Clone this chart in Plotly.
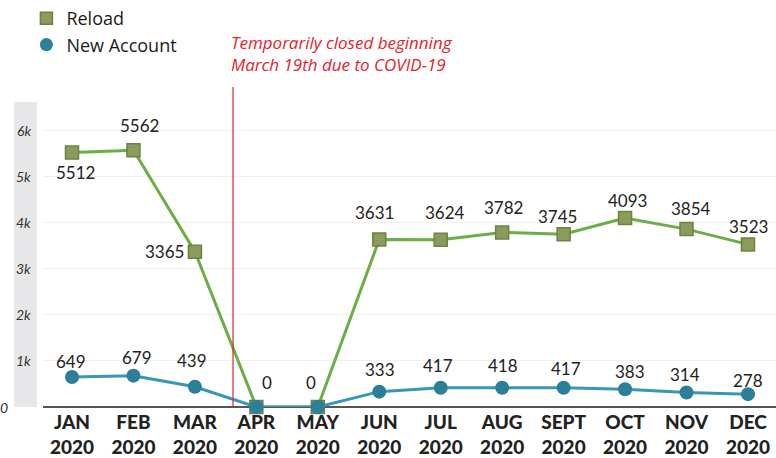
import plotly.graph_objects as go

months = ["JAN", "FEB", "MAR", "APR", "MAY", "JUN", "JUL", "AUG", "SEPT", "OCT", "NOV", "DEC"]
year = "2020"
reload_vals = [5512, 5562, 3365, 0, 0, 3631, 3624, 3782, 3745, 4093, 3854, 3523]
new_account_vals = [649, 679, 439, 0, 0, 333, 417, 418, 417, 383, 314, 278]
reload_show = [True, True, True, False, False, True, True, True, True, True, True, True]
ytick_vals = [0, 1000, 2000, 3000, 4000, 5000, 6000]
ytick_text = ["0", "1k", "2k", "3k", "4k", "5k", "6k"]
closure_pos = 2.62
note = "Temporarily closed beginning<br>March 19th due to COVID-19"

# label offsets in pixels (styling)
reload_dx = [3, 6, -30, 0, 0, -5, 4, 1, -6, 2, 4, 1]
reload_dy = [-20, 25, 0, 0, 0, 27, 27, 25, 18, 18, 21, 18]
new_dx = [-1, 4, -3, 11, -7, 1, -3, 1, 2, 5, -2, 0]
new_dy = [16, 18, 26, 25, 25, 22, 22, 22, 19, 18, 18, 14]

xs = list(range(len(months)))
FONT = "Lato"

R_LINE, R_FILL, R_EDGE = "#6aae45", "#8a9b5c", "#6e8240"
N_LINE, N_FILL = "#3996b8", "#2c7f98"
CLEAR = "rgba(0,0,0,0)"

fig = go.Figure()
fig.add_trace(go.Scatter(
    x=xs, y=reload_vals, name="Reload", mode="lines+markers", showlegend=False,
    line=dict(color=R_LINE, width=3),
    marker=dict(symbol="square", size=13, color=R_FILL, line=dict(color=R_EDGE, width=1.5)),
    cliponaxis=False,
))
fig.add_trace(go.Scatter(
    x=xs, y=new_account_vals, name="New Account", mode="lines+markers", showlegend=False,
    line=dict(color=N_LINE, width=3),
    marker=dict(symbol="circle", size=14, color=N_FILL),
    cliponaxis=False,
))
# legend-only entries (marker only)
fig.add_trace(go.Scatter(x=[None], y=[None], name="Reload", mode="markers",
                         marker=dict(symbol="square", size=12, color=R_FILL, line=dict(color=R_EDGE, width=1.5))))
fig.add_trace(go.Scatter(x=[None], y=[None], name="New Account", mode="markers",
                         marker=dict(symbol="circle", size=13, color=N_FILL)))

# value labels
for i, v in enumerate(reload_vals):
    if reload_show[i]:
        fig.add_annotation(x=xs[i], y=v, text=str(v), showarrow=False, xanchor="center", yanchor="middle",
                           xshift=reload_dx[i], yshift=reload_dy[i],
                           font=dict(family=FONT, size=17, color="#222"))
for i, v in enumerate(new_account_vals):
    fig.add_annotation(x=xs[i], y=v, text=str(v), showarrow=False, xanchor="center", yanchor="middle",
                       xshift=new_dx[i], yshift=new_dy[i],
                       font=dict(family=FONT, size=17, color="#222"))

# grey band behind y labels
fig.add_shape(type="rect", xref="paper", yref="paper", x0=-0.0396, x1=-0.0082, y0=0, y1=1.017,
              fillcolor="#e7e7e9", line=dict(width=0), layer="below")
# closure line
fig.add_shape(type="line", xref="x", yref="paper", x0=closure_pos, x1=closure_pos, y0=0, y1=1.067,
              line=dict(color="#d9252b", width=1.2))
fig.add_annotation(xref="x", yref="paper", x=closure_pos, y=1.177, xanchor="left", yanchor="middle",
                   text=note, showarrow=False, align="left", xshift=-4,
                   font=dict(family="Open Sans", size=17, color="#e8202a", style="italic"))

for v, t in zip(ytick_vals, ytick_text):
    fig.add_annotation(xref="paper", yref="y", x=(10 - 43) / 733 if v == 0 else (33 - 43) / 733, y=v,
                       xanchor="right", yanchor="middle", text=t, showarrow=False,
                       font=dict(family=FONT, size=14, color="#333", style="italic"))

fig.update_layout(
    width=776, height=458,
    margin=dict(l=43, r=0, t=107, b=51, autoexpand=False),
    plot_bgcolor="white", paper_bgcolor="white",
    font=dict(family=FONT),
    showlegend=True,
    legend=dict(xref="container", yref="container", x=0.034, y=1.017, xanchor="left", yanchor="top",
                font=dict(family="Open Sans", size=18, color="#1a1a1a"), itemwidth=30,
                bgcolor=CLEAR, tracegroupgap=0),
    xaxis=dict(range=[-0.472, 11.456], tickvals=xs, ticktext=[f"{m}<br>{year}" for m in months],
               tickfont=dict(family=FONT, size=19, color="#222", weight=900), ticklabelstandoff=2,
               showgrid=False, zeroline=False, showline=False, ticks=""),
    yaxis=dict(range=[0, 6500], tickvals=ytick_vals, showticklabels=False,
               showgrid=True, gridcolor="#efefef", gridwidth=1,
               zeroline=True, zerolinecolor="#555", zerolinewidth=2, showline=False),
)

fig.write_html("out.html", config={"displayModeBar": False},
               post_script="document.body.style.margin='0';")
